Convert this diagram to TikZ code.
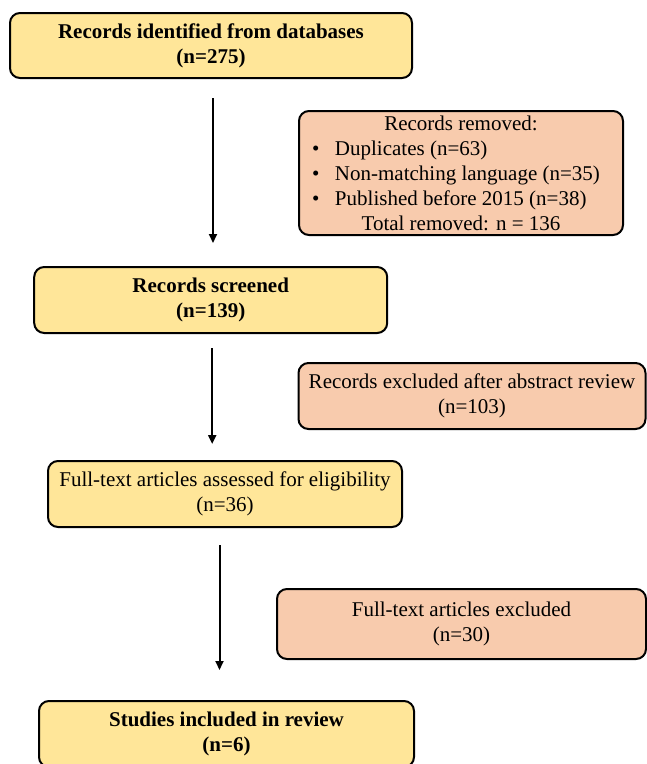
\documentclass[tikz,border=0pt]{standalone}
\usepackage{fontspec}
\setmainfont{Liberation Serif}
\usetikzlibrary{arrows.meta,positioning}
\definecolor{prYellow}{HTML}{FFE699}
\definecolor{prSalmon}{HTML}{F8CBAD}
\tikzset{
  box/.style     ={draw=black,line width=2pt,rounded corners=10pt,align=center,
                   inner sep=0pt,font=\fontsize{21}{25}\selectfont},
  incbox/.style  ={box,fill=prYellow,font=\fontsize{21}{25}\selectfont\bfseries},
  chkbox/.style  ={box,fill=prYellow},
  exbox/.style   ={box,fill=prSalmon},
  flow/.style    ={-{Triangle[length=9pt,width=8pt]},black,line width=2pt},
}
\newcommand{\prbullet}[1]{\hspace*{-12pt}\makebox[286pt][l]{\makebox[23pt][l]{\textbullet}#1}}

\begin{document}
\begin{tikzpicture}[x=1pt,y=-1pt]
\useasboundingbox (0,0) rectangle (647,764);
%% main column
\node[incbox,minimum width=402,minimum height=65] (ident) at (211,45.5)
  {Records identified from databases\\(n=275)};
\node[incbox,minimum width=353,minimum height=66] (screen) at (210.7,300)
  {Records screened\\(n=139)};
\node[chkbox,minimum width=354,minimum height=66] (full) at (225,494)
  {Full-text articles assessed for eligibility\\(n=36)};
\node[incbox,minimum width=375,minimum height=66] (incl) at (226.5,734)
  {Studies included in review\\(n=6)};
%% exclusions
\node[exbox,minimum width=324,minimum height=124] (removed) at (461,173)
  {Records removed:\\
   \prbullet{Duplicates (n=63)}\\
   \prbullet{Non-matching language (n=35)}\\
   \prbullet{Published before 2015 (n=38)}\\
   Total removed: n = 136};
\node[exbox,minimum width=347,minimum height=66] (absex) at (472,396)
  {Records excluded after abstract review\\(n=103)};
\node[exbox,minimum width=369,minimum height=70] (fullex) at (461.5,624)
  {Full-text articles excluded\\(n=30)};
%% arrows
\draw[flow,shorten <=19pt,shorten >=23pt] ([xshift=2pt]ident.south) -- ([xshift=2pt]ident.south |- screen.north);
\draw[flow,shorten <=14pt,shorten >=16pt] ([xshift=1.5pt]screen.south) -- ([xshift=1.5pt]screen.south |- full.north);
\draw[flow,shorten <=17pt,shorten >=30pt] ([xshift=-5.5pt]full.south) -- ([xshift=-5.5pt]full.south |- incl.north);
\end{tikzpicture}
\end{document}
